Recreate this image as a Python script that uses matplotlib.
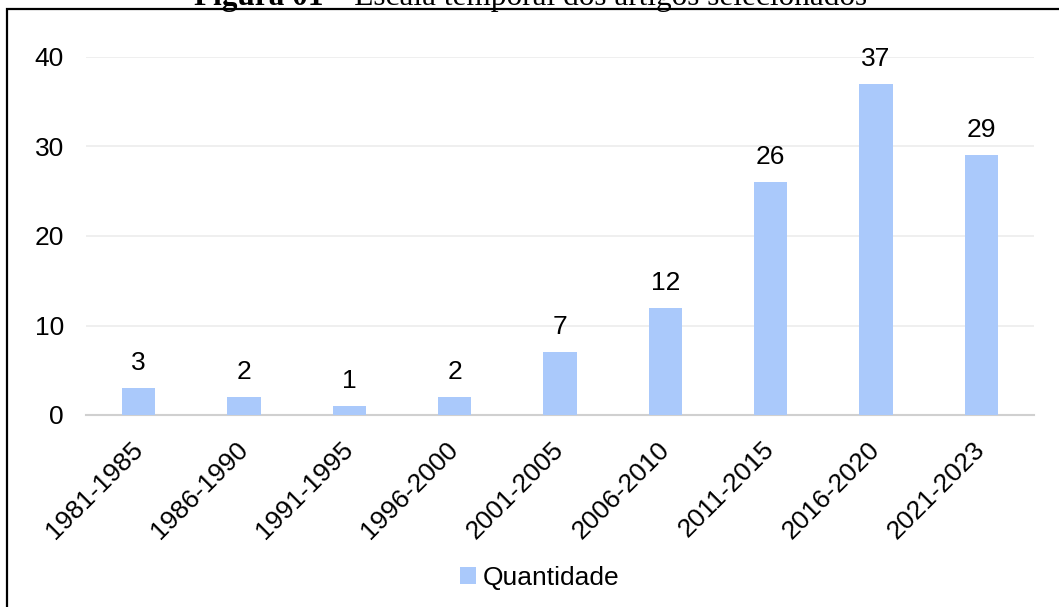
import matplotlib.pyplot as plt
from matplotlib.patches import Rectangle
import numpy as np

periodos = ['1981-1985', '1986-1990', '1991-1995', '1996-2000', '2001-2005',
            '2006-2010', '2011-2015', '2016-2020', '2021-2023']
quantidade = [3, 2, 1, 2, 7, 12, 26, 37, 29]
yticks = [0, 10, 20, 30, 40]

W, H = 1059, 607
fig = plt.figure(figsize=(W / 100, H / 100), dpi=100)
plt.rcParams['font.family'] = ['Liberation Sans', 'DejaVu Sans']

# frame around the chart (right/bottom fall outside the picture)
fig.patches.append(Rectangle((7 / W, -0.05), 1.2, 1 - 9 / H + 0.05,
                             transform=fig.transFigure, fill=False,
                             edgecolor='black', linewidth=1.6, clip_on=False))

# caption, mostly cut off at the top
fig.text(323 / W, 1 - 5 / H, 'Figura 01', ha='right', va='baseline',
         fontsize=22.5, fontweight='bold', family='Liberation Serif')
fig.text(323 / W, 1 - 5 / H, ' \u2013 Escala temporal dos artigos selecionados',
         ha='left', va='baseline', fontsize=22.5, family='Liberation Serif')

ax = fig.add_axes([86 / W, 1 - 415 / H, 948 / W, 358 / H])
x = np.arange(len(periodos))
bars = ax.bar(x, quantidade, width=0.315, color='#aac9fb', zorder=3,
              label='Quantidade')

for xi, v in zip(x, quantidade):
    ax.annotate(str(v), (xi, v), xytext=(0, 13), textcoords='offset points',
                ha='center', va='baseline', fontsize=19, clip_on=False)

ax.set_xlim(-0.5, len(periodos) - 0.5)
ax.set_ylim(0, 40)
ax.set_yticks(yticks)
ax.set_yticklabels([str(t) for t in yticks], fontsize=19)
ax.grid(axis='y', color='#ececec', linewidth=1.2, zorder=0)
ax.set_xticks(x)
ax.set_xticklabels(periodos, rotation=45, ha='right', va='center',
                   rotation_mode='anchor', fontsize=19)
ax.tick_params(axis='x', length=0, pad=22)
ax.tick_params(axis='y', length=0, pad=16)
for s in ['top', 'right', 'left']:
    ax.spines[s].set_visible(False)
ax.spines['bottom'].set_color('#d0d0d0')
ax.spines['bottom'].set_linewidth(1.5)

leg = fig.legend(handles=[bars], labels=['Quantidade'], loc='center',
                 bbox_to_anchor=(540 / W, 1 - 578 / H), frameon=False,
                 fontsize=19, handlelength=0.6, handleheight=0.6,
                 handletextpad=0.25)

fig.savefig('out.png', dpi=100)
